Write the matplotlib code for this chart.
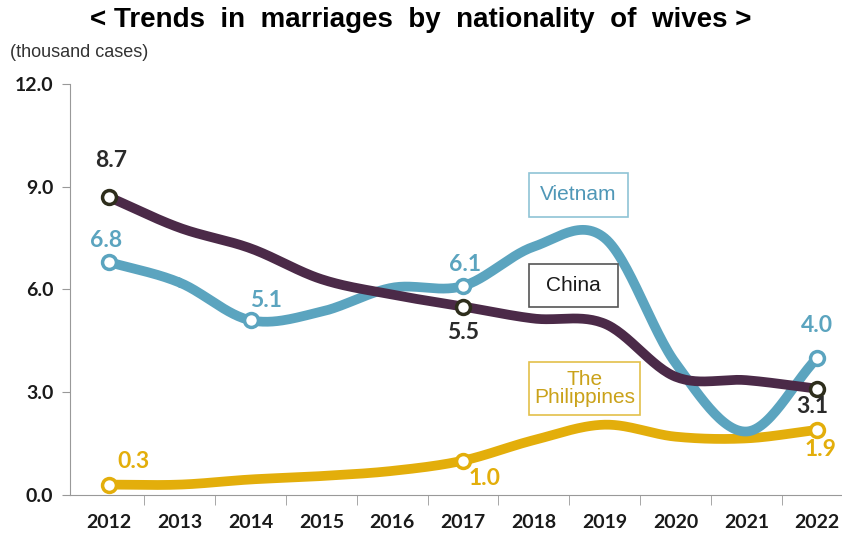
import numpy as np
import matplotlib
matplotlib.use('Agg')
import matplotlib.pyplot as plt
from matplotlib.patches import Rectangle

# datos (miles de casos)
years = [2012, 2013, 2014, 2015, 2016, 2017, 2018, 2019, 2020, 2021, 2022]
china = [8.7, 7.8, 7.2, 6.3, 5.85, 5.5, 5.15, 5.0, 3.45, 3.35, 3.1]
vietnam = [6.8, 6.2, 5.1, 5.35, 6.05, 6.1, 7.25, 7.5, 3.85, 1.85, 4.0]
philippines = [0.3, 0.3, 0.45, 0.55, 0.7, 1.0, 1.6, 2.05, 1.7, 1.65, 1.9]

yticks = [0.0, 3.0, 6.0, 9.0, 12.0]

c_china = '#4b2a48'
c_viet = '#5ba4bf'
c_phil = '#e3ae0b'

tick_font = ['Lato', 'DejaVu Sans']
arial = ['Liberation Sans', 'DejaVu Sans']


def smooth(x, y, n=30):
    """Curva Catmull-Rom entre los puntos (como el suavizado de Excel)."""
    x = np.asarray(x, float)
    y = np.asarray(y, float)
    px = np.concatenate([[2 * x[0] - x[1]], x, [2 * x[-1] - x[-2]]])
    py = np.concatenate([[2 * y[0] - y[1]], y, [2 * y[-1] - y[-2]]])
    xs, ys = [], []
    t = np.linspace(0, 1, n)
    for i in range(1, len(px) - 2):
        for p, out in ((px, xs), (py, ys)):
            p0, p1, p2, p3 = p[i - 1], p[i], p[i + 1], p[i + 2]
            out.extend(0.5 * (2 * p1 + (-p0 + p2) * t
                              + (2 * p0 - 5 * p1 + 4 * p2 - p3) * t ** 2
                              + (-p0 + 3 * p1 - 3 * p2 + p3) * t ** 3))
    return np.array(xs), np.array(ys)


W, H = 842, 535
fig = plt.figure(figsize=(W / 100, H / 100), dpi=100)
ax = fig.add_axes([0.083, 0.075, 0.917, 0.768])

series = [
    (philippines, c_phil, c_phil, [0, 5, 10]),
    (vietnam, c_viet, c_viet, [0, 2, 5, 10]),
    (china, c_china, '#2e2e1c', [0, 5, 10]),
]
for vals, col, edge, marks in series:
    sx, sy = smooth(years, vals)
    ax.plot(sx, sy, color=col, lw=7, solid_capstyle='round', zorder=2)
    ax.plot([years[i] for i in marks], [vals[i] for i in marks], 'o',
            ms=10, mfc='white', mec=edge, mew=2.5, zorder=3)

# etiquetas de valores
labels = [
    (china, 0, (2, 36), '#2a2a2a'),
    (china, 5, (0, -26), '#2a2a2a'),
    (china, 10, (-5, -18), '#2a2a2a'),
    (vietnam, 0, (-3, 22), c_viet),
    (vietnam, 2, (15, 20), c_viet),
    (vietnam, 5, (2, 22), c_viet),
    (vietnam, 10, (0, 32), c_viet),
    (philippines, 0, (25, 23), c_phil),
    (philippines, 5, (22, -18), c_phil),
    (philippines, 10, (3, -20), c_phil),
]
for vals, i, off, col in labels:
    ax.annotate(f'{vals[i]:.1f}', (years[i], vals[i]), xytext=off,
                textcoords='offset pixels', ha='center', va='center',
                fontsize=16.5, color=col, family=tick_font, fontweight='bold')

# cuadros de leyenda (x0, y0, x1, y1 en pixeles desde arriba)
boxes = [
    ('Vietnam', (529, 173, 628, 217), '#4f97b7', '#8fc3d6'),
    ('China', (529, 264, 618, 307), '#1a1a1a', '#555555'),
    ('The\nPhilippines', (529, 362, 640, 415), '#caa21a', '#e3c04a'),
]
for txt, (x0, y0, x1, y1), col, ec in boxes:
    fig.add_artist(Rectangle((x0 / W, 1 - y1 / H), (x1 - x0) / W,
                             (y1 - y0) / H, transform=fig.transFigure,
                             fc='white', ec=ec, lw=1.2, zorder=5))
    fig.text((x0 + x1) / 2 / W, 1 - (y0 + y1) / 2 / H, txt, ha='center',
             va='center', fontsize=15, color=col, family=arial,
             linespacing=0.95, zorder=6)

ax.set_xlim(2011.45, 2022.35)
ax.set_ylim(0, 12)
ax.set_yticks(yticks)
ax.set_yticklabels([f'{v:.1f}' for v in yticks], fontsize=14,
                   fontweight='bold', family=tick_font, color='#1a1a1a')
ax.set_xticks(years)
ax.set_xticklabels([str(y) for y in years], fontsize=14,
                   fontweight='bold', family=tick_font, color='#1a1a1a')
ax.set_xticks(np.arange(2012.5, 2022, 1), minor=True)
ax.tick_params(axis='x', which='major', length=0, pad=14)
ax.tick_params(axis='x', which='minor', length=7, color='#999999')
ax.tick_params(axis='y', length=6, color='#999999', pad=6)
for s in ['top', 'right']:
    ax.spines[s].set_visible(False)
for s in ['left', 'bottom']:
    ax.spines[s].set_color('#999999')

fig.text(0.5, 0.963, '< Trends  in  marriages  by  nationality  of  wives >',
         ha='center', va='center', fontsize=20, fontweight='bold',
         family=arial)
fig.text(0.012, 0.902, '(thousand cases)', ha='left', va='center',
         fontsize=13, color='#333333', family=arial)

fig.savefig('out.png', dpi=100)
